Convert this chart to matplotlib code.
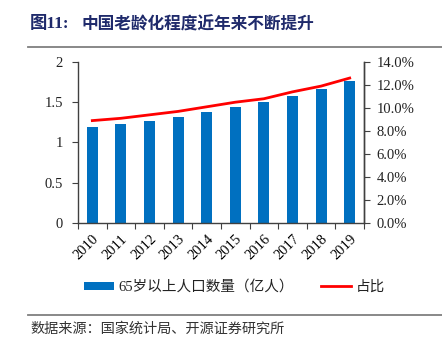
import matplotlib
matplotlib.use("Agg")
import matplotlib.pyplot as plt
from matplotlib.lines import Line2D
from matplotlib.patches import Patch
from matplotlib.ticker import FuncFormatter, MultipleLocator

years = ["2010", "2011", "2012", "2013", "2014", "2015", "2016", "2017", "2018", "2019"]
pop_65 = [1.19, 1.23, 1.27, 1.32, 1.38, 1.44, 1.50, 1.58, 1.67, 1.76]
share = [8.9, 9.1, 9.4, 9.7, 10.1, 10.5, 10.8, 11.4, 11.9, 12.6]

SERIF = ["Liberation Serif", "Noto Sans CJK SC"]
CJK = ["Noto Sans CJK SC", "Liberation Serif"]
BLUE = "#0070C0"
RED = "#FF0000"

fig = plt.figure(figsize=(4.42, 3.5), dpi=100)
ax = fig.add_axes([0.1765, 0.363, 0.647, 0.46])
ax2 = ax.twinx()

x = list(range(len(years)))
ax.bar(x, pop_65, width=0.38, color=BLUE, zorder=2)
ax2.plot(x, share, color=RED, lw=2, zorder=3)

ax.set_xlim(-0.5, len(years) - 0.5)
ax.set_ylim(0, 2)
ax2.set_ylim(0, 14)
ax.yaxis.set_major_locator(MultipleLocator(0.5))
ax.yaxis.set_major_formatter(FuncFormatter(lambda v, p: f"{v:g}"))
ax2.yaxis.set_major_locator(MultipleLocator(2))
ax2.yaxis.set_major_formatter(FuncFormatter(lambda v, p: f"{v:.1f}%"))

# category ticks sit between bars, labels at bar centres
ax.set_xticks([i + 0.5 for i in x[:-1]] + [-0.5, len(years) - 0.5])
ax.set_xticklabels([])
ax.set_xticks(x, minor=True)
ax.set_xticklabels(years, minor=True, rotation=45, ha="right", va="top",
                   rotation_mode="anchor", family=SERIF, fontsize=10.5)
ax.tick_params(axis="x", which="minor", length=0, pad=7)
ax.tick_params(axis="x", which="major", length=4, direction="out", color="#404040")

for a in (ax, ax2):
    a.spines["top"].set_visible(False)
    for s in a.spines.values():
        s.set_color("#404040")
        s.set_linewidth(1)
ax2.spines["left"].set_visible(False)
ax2.spines["bottom"].set_visible(False)

ax.tick_params(axis="y", length=4, color="#404040", labelsize=10.5, pad=7)
ax2.tick_params(axis="y", length=4, color="#404040", labelsize=10.5, pad=5)
for lab in ax.get_yticklabels() + ax2.get_yticklabels():
    lab.set_family(SERIF)
    lab.set_color("#222222")

# title and rules
fig.text(0.068, 0.931, "图11:", family=SERIF, fontsize=12.5, fontweight="bold",
         color="#1F2A6B", va="center")
fig.text(0.185, 0.931, "中国老龄化程度近年来不断提升", family=CJK, fontsize=12,
         fontweight="bold", color="#1F2A6B", va="center")
fig.add_artist(Line2D([0.063, 1.0], [0.866, 0.866], color="#7F7F7F", lw=1.3))
fig.add_artist(Line2D([0.063, 1.0], [0.1, 0.1], color="#7F7F7F", lw=1.3))
fig.text(0.068, 0.06, "数据来源：国家统计局、开源证券研究所", family=CJK,
         fontsize=10.2, color="#333333", va="center")

# legend
handles = [Patch(facecolor=BLUE, edgecolor="none"),
           Line2D([], [], color=RED, lw=2)]
leg = fig.legend(handles, ["65岁以上人口数量（亿人）", "占比"],
                 loc="center", bbox_to_anchor=(0.53, 0.18), ncol=2, frameon=False,
                 prop={"family": SERIF, "size": 10.5}, handlelength=2.1,
                 handleheight=0.5, handletextpad=0.3, columnspacing=1.8)
for t in leg.get_texts():
    t.set_color("#222222")

fig.savefig("out.png", dpi=100)
